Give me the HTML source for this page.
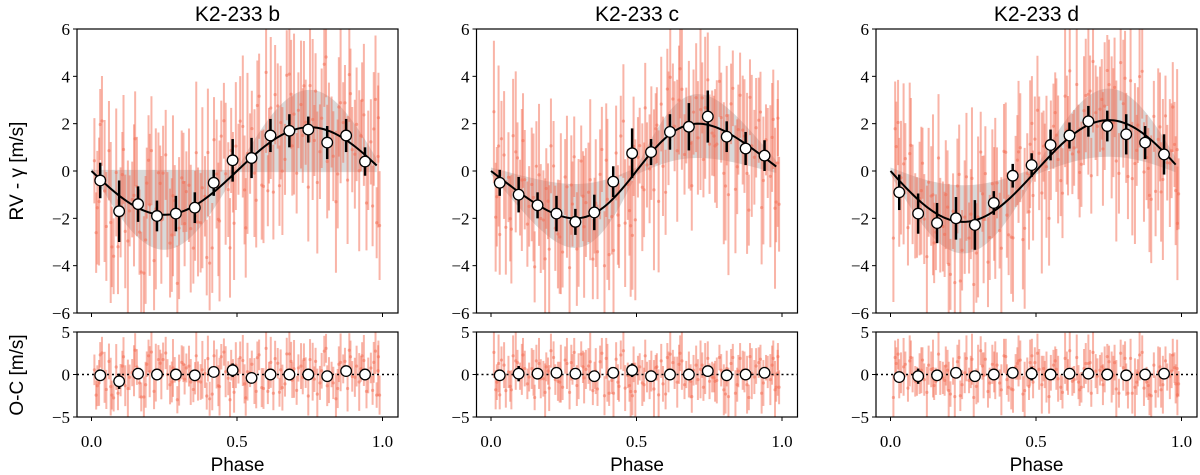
<!DOCTYPE html>
<html><head><meta charset="utf-8"><style>
html,body{margin:0;padding:0;background:#fff;}
svg{display:block;}
</style></head><body>
<svg id="fig" width="1200" height="475" xmlns="http://www.w3.org/2000/svg"></svg>
<script>
// ---- data ----
const planetNames = ["K2-233 b","K2-233 c","K2-233 d"];
const binPhases = [0.03,0.095,0.16,0.225,0.29,0.355,0.42,0.485,0.55,0.615,0.68,0.745,0.81,0.875,0.94];
const binB = [-0.4,-1.7,-1.4,-1.9,-1.8,-1.55,-0.5,0.45,0.55,1.5,1.7,1.75,1.2,1.5,0.4];
const binBerr = [0.75,1.3,0.75,0.65,0.75,0.65,0.55,0.9,0.85,0.7,0.7,0.55,0.7,0.7,0.6];
const binC = [-0.5,-1.0,-1.45,-1.8,-2.15,-1.75,-0.45,0.75,0.8,1.65,1.87,2.3,1.45,0.95,0.65];
const binCerr = [0.55,0.75,0.55,0.75,0.55,0.75,0.65,1.05,0.55,0.75,1.0,1.1,0.65,0.7,0.65];
const binD = [-0.9,-1.8,-2.2,-2.0,-2.28,-1.35,-0.2,0.25,1.1,1.5,2.1,1.9,1.55,1.2,0.7];
const binDerr = [0.75,0.85,0.85,0.9,1.05,0.5,0.5,0.5,0.65,0.55,0.65,0.65,0.85,0.7,0.85];
const ocB = [-0.1,-0.8,0.1,0.0,0.0,-0.1,0.3,0.5,-0.4,0.0,0.0,0.0,-0.2,0.4,0.0];
const ocC = [-0.1,0.1,0.1,0.2,0.1,-0.2,0.2,0.5,-0.2,0.0,0.0,0.4,-0.1,0.0,0.2];
const ocD = [-0.3,-0.2,-0.1,0.2,-0.2,0.0,0.2,0.1,0.0,0.1,0.1,0.0,-0.1,0.0,0.1];
const ocErr = [0.5,0.9,0.5,0.6,0.6,0.6,0.5,0.8,0.6,0.5,0.6,0.5,0.5,0.6,0.5];
const modelK = [1.85,2.0,2.15];
const modelWarp = [0.0,-0.25,0.0];
const rawPhases = [0.01,0.02,0.03,0.045,0.06,0.07,0.085,0.1,0.11,0.125,0.14,0.15,0.165,0.18,0.19,0.2,0.215,0.23,0.24,0.255,0.27,0.28,0.295,0.31,0.32,0.335,0.35,0.36,0.375,0.39,0.4,0.415,0.43,0.44,0.455,0.47,0.48,0.49,0.505,0.52,0.53,0.545,0.56,0.57,0.585,0.6,0.61,0.625,0.64,0.65,0.665,0.68,0.69,0.705,0.72,0.73,0.745,0.76,0.77,0.785,0.8,0.81,0.825,0.84,0.85,0.865,0.88,0.89,0.905,0.92,0.93,0.945,0.96,0.97,0.98,0.985];
const rawResid = [0.5,-1.2,2.1,-0.3,1.4,-2.2,0.8,-0.6,1.9,-1.5,0.2,2.6,-0.9,-2.4,1.1,0.3,-1.8,1.6,-0.2,2.3,-1.1,0.7,-2.7,1.3,-0.5,0.9,-1.6,2.0,-0.8,0.1,1.7,-2.1,0.6,-1.3,2.4,-0.4,1.0,-1.9,0.4,1.5,-2.5,0.2,-0.7,1.8,-1.4,2.8,-0.1,-2.0,1.2,0.5,-1.0,2.2,-0.6,-1.7,0.9,1.6,-2.3,0.3,1.4,-0.9,2.5,-1.2,0.0,-2.6,1.1,0.6,-1.5,1.9,-0.3,-0.8,2.0,-1.8,0.7,1.3,-2.2,0.4];
const rawErr = [1.8,2.4,1.5,3.0,2.1,1.7,2.7,1.9,2.3,3.4,1.6,2.0];
const yTicksTop = [-6,-4,-2,0,2,4,6];
const yTicksOC = [-5,0,5];
const xTicks = [0.0,0.5,1.0];
const xTickLabels = ["0.0","0.5","1.0"];

const bins = [binB,binC,binD], binErrs=[binBerr,binCerr,binDerr], ocs=[ocB,ocC,ocD];
const NS="http://www.w3.org/2000/svg";
const svg=document.getElementById('fig');
function mk(tag,attrs,parent){const e=document.createElementNS(NS,tag);for(const k in attrs)e.setAttribute(k,attrs[k]);(parent||svg).appendChild(e);return e;}
const TOP=29,BOT=313,OCT=332,OCB=417,W=321;
function model(i,p){const th=2*Math.PI*p+modelWarp[i]*Math.sin(2*Math.PI*p);return -modelK[i]*Math.sin(th);}
const serif='"Liberation Serif", serif', sans='"Liberation Sans", sans-serif';
const red='#f4694f';

for(let i=0;i<3;i++){
  const L=77+399.5*i;
  const xs=p=>L+14.5+291*p;
  const ys=v=>TOP+(6-v)*(BOT-TOP)/12;
  const yo=v=>OCT+(5-v)*(OCB-OCT)/10;
  const g=mk('g',{});
  
  
  const cpT=mk('clipPath',{id:'ct'+i},g); mk('rect',{x:L,y:TOP,width:W,height:BOT-TOP},cpT);
  const cpO=mk('clipPath',{id:'co'+i},g); mk('rect',{x:L,y:OCT,width:W,height:OCB-OCT},cpO);
  const gt=mk('g',{'clip-path':'url(#ct'+i+')'},g);
  const go=mk('g',{'clip-path':'url(#co'+i+')'},g);
  // band
  let up=[],lo=[];
  for(let k=0;k<=100;k++){const p=k/100*0.98,m=model(i,p);let a,b;
    if(i===0){a=Math.max(0.05,1.8*m+0.1);b=Math.min(-0.05,1.8*m);}
    else{const w=0.15;a=m*(m>0?1.55:0.35)+w;b=m*(m<0?1.55:0.35)-w;}
    up.push(xs(p)+','+ys(a));lo.unshift(xs(p)+','+ys(b));}
  const band=mk('polygon',{points:up.concat(lo).join(' '),fill:'#d9d9d9'},gt);
  
  
  // raw points (two passes)
  for(let pass=0;pass<2;pass++){
    for(let j=0;j<rawPhases.length;j++){
      const p=Math.min(0.99,rawPhases[j]+pass*0.006);
      const r=rawResid[(j*(pass?7:1)+i*11+pass*5)%rawResid.length]*(i===0?1.1:1);
      const e=rawErr[(j+i*3+pass*5)%rawErr.length];
      const v=model(i,p)+r;
      const ln=mk('line',{x1:xs(p),x2:xs(p),y1:ys(v-e),y2:ys(v+e),stroke:red,'stroke-width':2,'stroke-opacity':0.5},gt);
      
      
      const c=mk('circle',{cx:xs(p),cy:ys(v),r:1.6,fill:red,'fill-opacity':0.5},gt);
      
      
      const lo2=mk('line',{x1:xs(p),x2:xs(p),y1:yo(r-e),y2:yo(r+e),stroke:red,'stroke-width':2,'stroke-opacity':0.5},go);
      
      
      mk('circle',{cx:xs(p),cy:yo(r),r:1.6,fill:red,'fill-opacity':0.5},go);
    }
  }
  // model curve
  let pts=[];for(let k=0;k<=120;k++){const p=k/120*0.98;pts.push(xs(p)+','+ys(model(i,p)));}
  const cur=mk('polyline',{points:pts.join(' '),fill:'none',stroke:'#000','stroke-width':2},gt);
  
  
  // zero line in O-C
  const zl=mk('line',{x1:L,x2:L+W,y1:yo(0),y2:yo(0),stroke:'#000','stroke-width':1.5,'stroke-dasharray':'2,3'},go);
  
  
  // binned
  for(let j=0;j<binPhases.length;j++){
    const x=xs(binPhases[j]),v=bins[i][j],e=binErrs[i][j];
    mk('line',{x1:x,x2:x,y1:ys(v-e),y2:ys(v+e),stroke:'#000','stroke-width':2.5},g);
    const c=mk('circle',{cx:x,cy:ys(v),r:5.3,fill:'#fff',stroke:'#000','stroke-width':1.3},g);
    
    
    const o=ocs[i][j],oe=ocErr[j];
    mk('line',{x1:x,x2:x,y1:yo(o-oe),y2:yo(o+oe),stroke:'#000','stroke-width':2.5},g);
    const c2=mk('circle',{cx:x,cy:yo(o),r:5.3,fill:'#fff',stroke:'#000','stroke-width':1.3},g);
    
    
  }
  // frames
  const f1=mk('rect',{x:L,y:TOP,width:W,height:BOT-TOP,fill:'none',stroke:'#000','stroke-width':1.2},g);
  
  
  const f2=mk('rect',{x:L,y:OCT,width:W,height:OCB-OCT,fill:'none',stroke:'#000','stroke-width':1.2},g);
  
  
  // y ticks
  yTicksTop.forEach(t=>{mk('line',{x1:L-4,x2:L,y1:ys(t),y2:ys(t),stroke:'#000'},g);
    const tx=mk('text',{x:L-7,y:ys(t)+6,'text-anchor':'end','font-family':serif,'font-size':17},g);
    tx.textContent=t<0?'\u2212'+(-t):String(t);
    
    });
  yTicksOC.forEach(t=>{mk('line',{x1:L-4,x2:L,y1:yo(t),y2:yo(t),stroke:'#000'},g);
    const tx=mk('text',{x:L-7,y:yo(t)+6,'text-anchor':'end','font-family':serif,'font-size':17},g);
    tx.textContent=t<0?'\u2212'+(-t):String(t);
    
    });
  xTicks.forEach((t,k)=>{mk('line',{x1:xs(t),x2:xs(t),y1:BOT,y2:BOT+4,stroke:'#000'},g);
    mk('line',{x1:xs(t),x2:xs(t),y1:OCB,y2:OCB+4,stroke:'#000'},g);
    const tx=mk('text',{x:xs(t),y:447,'text-anchor':'middle','font-family':serif,'font-size':17},g);
    tx.textContent=xTickLabels[k];
    
    });
  const ti=mk('text',{x:L+W/2,y:21,'text-anchor':'middle','font-family':sans,'font-size':21},g);
  ti.textContent=planetNames[i];
  
  
  const xl=mk('text',{x:L+W/2,y:471,'text-anchor':'middle','font-family':sans,'font-size':19},g);
  xl.textContent='Phase';
  
  
}
const yl=mk('text',{x:0,y:0,transform:'translate(23,171) rotate(-90)','text-anchor':'middle','font-family':sans,'font-size':19});
yl.textContent='RV - \u03b3 [m/s]';


const yl2=mk('text',{x:0,y:0,transform:'translate(23,375) rotate(-90)','text-anchor':'middle','font-family':sans,'font-size':19});
yl2.textContent='O-C [m/s]';


</script>
</body></html>
